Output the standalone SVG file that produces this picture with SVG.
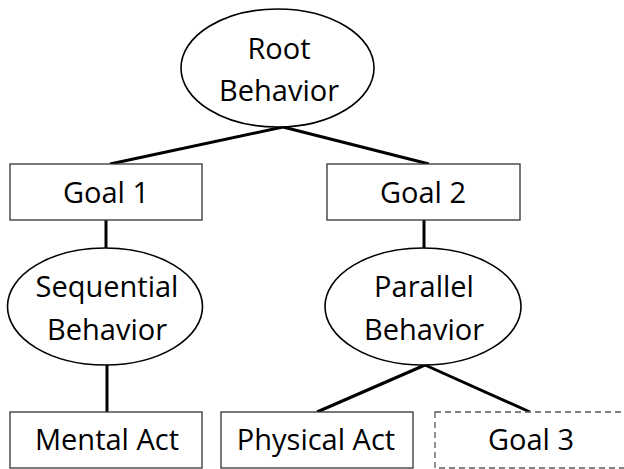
<svg xmlns="http://www.w3.org/2000/svg" width="624" height="469" viewBox="0 0 624 469">
<style>
  .box { fill: #fff; stroke: #333; stroke-width: 1.3; }
  .dash { fill: #fff; stroke: #555; stroke-width: 1.3; stroke-dasharray: 6 4; }
  .ell { fill: #fff; stroke: #000; stroke-width: 1.6; }
  .edge { stroke: #000; stroke-width: 3; fill: none; }
  text { font-family: "Open Sans", "Liberation Sans", sans-serif; font-size: 29px; fill: #000; text-anchor: middle; }
</style>
<rect width="624" height="469" fill="#fff"/>
<g id="connectors">
  <line class="edge" x1="283" y1="127" x2="110" y2="164"/>
  <line class="edge" x1="283" y1="127" x2="429" y2="164"/>
  <line class="edge" x1="106" y1="220" x2="106" y2="248"/>
  <line class="edge" x1="424" y1="220" x2="424" y2="248"/>
  <line class="edge" x1="107" y1="365" x2="107" y2="412"/>
  <line class="edge" x1="425" y1="365" x2="317" y2="412"/>
  <line class="edge" x1="425" y1="365" x2="530" y2="412"/>
</g>
<g id="root">
  <ellipse class="ell" cx="277.5" cy="68" rx="96.5" ry="59"/>
  <text x="279" y="59">Root</text>
  <text x="279" y="101">Behavior</text>
</g>
<g id="goal1">
  <rect class="box" x="10" y="164" width="192" height="56"/>
  <text x="106" y="203">Goal 1</text>
</g>
<g id="goal2">
  <rect class="box" x="327" y="164" width="193" height="56"/>
  <text x="423" y="203">Goal 2</text>
</g>
<g id="sequential">
  <ellipse class="ell" cx="105" cy="306.5" rx="97.5" ry="58.5"/>
  <text x="107" y="297">Sequential</text>
  <text x="107" y="340">Behavior</text>
</g>
<g id="parallel">
  <ellipse class="ell" cx="423" cy="306.5" rx="98" ry="58.5"/>
  <text x="424" y="297">Parallel</text>
  <text x="424" y="340">Behavior</text>
</g>
<g id="mental">
  <rect class="box" x="10" y="412" width="192" height="56"/>
  <text x="107" y="450">Mental Act</text>
</g>
<g id="physical">
  <rect class="box" x="221" y="412" width="192" height="56"/>
  <text x="316" y="450">Physical Act</text>
</g>
<g id="goal3">
  <rect class="dash" x="435" y="412" width="192" height="56"/>
  <text x="531" y="450">Goal 3</text>
</g>
</svg>
